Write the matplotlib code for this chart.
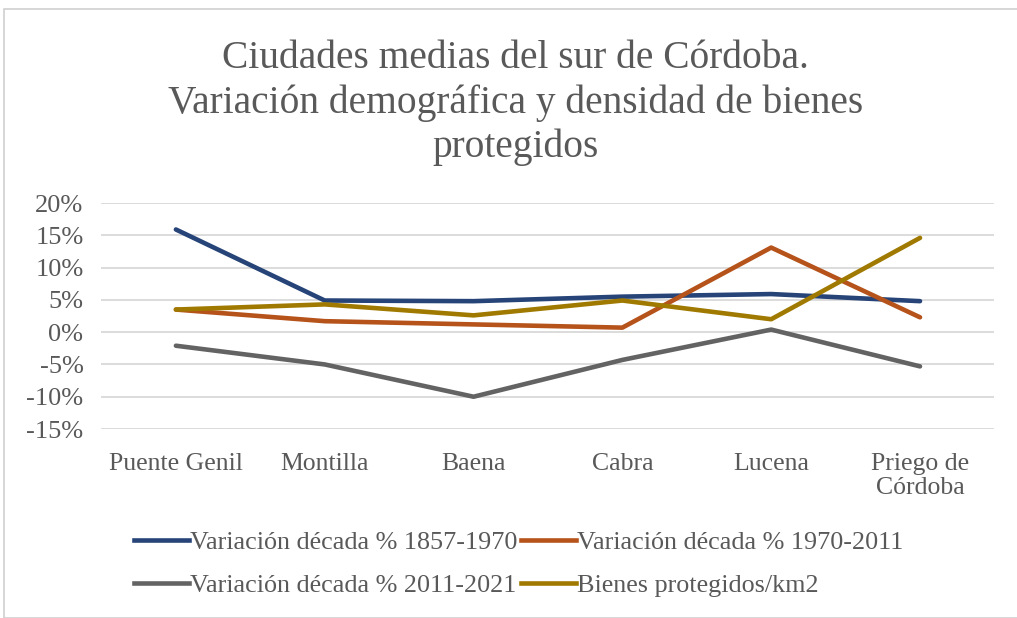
import matplotlib.pyplot as plt
import numpy as np
from matplotlib.patches import Rectangle
from matplotlib.lines import Line2D

ciudades = ["Puente Genil", "Montilla", "Baena", "Cabra", "Lucena", "Priego de\nCórdoba"]
var_1857_1970 = [15.9, 4.9, 4.8, 5.5, 5.9, 4.8]
var_1970_2011 = [3.5, 1.7, 1.2, 0.7, 13.1, 2.3]
var_2011_2021 = [-2.1, -5.0, -10.0, -4.3, 0.4, -5.3]
bienes_km2 = [3.5, 4.3, 2.6, 4.9, 2.0, 14.6]

series = [
    ("Variación década % 1857-1970", var_1857_1970, "#264478"),
    ("Variación década % 1970-2011", var_1970_2011, "#B5531A"),
    ("Variación década % 2011-2021", var_2011_2021, "#636363"),
    ("Bienes protegidos/km2", bienes_km2, "#A07A00"),
]
yticks = [-15, -10, -5, 0, 5, 10, 15, 20]

plt.rcParams['font.family'] = ['Liberation Serif', 'DejaVu Serif']
txt = "#595959"

fig = plt.figure(figsize=(10.17, 6.18), dpi=100)
fig.patches.append(Rectangle((4/1017, 0.0), 1.2, 1 - 9/618, transform=fig.transFigure,
                             fill=False, edgecolor="#D0D0D0", lw=1.2))

ax = fig.add_axes([0.0998, 0.3058, 0.878, 0.3657])
x = np.arange(len(ciudades))
for name, vals, col in series:
    ax.plot(x, vals, color=col, lw=3.3, solid_capstyle="round", label=name)

ax.set_xlim(-0.5, len(ciudades) - 0.5)
ax.set_ylim(-15, 20)
ax.set_yticks(yticks)
ax.set_yticklabels([f"{v}%" for v in yticks], fontsize=19, color=txt)
ax.set_xticks(x)
ax.set_xticklabels(ciudades, fontsize=18.5, color=txt, linespacing=1.15, va="top")
ax.tick_params(axis="y", length=0, pad=13)
ax.tick_params(axis="x", length=0, pad=17)
ax.grid(axis="y", color="#D9D9D9", lw=1.3)
ax.set_axisbelow(True)
for s in ax.spines.values():
    s.set_visible(False)

fig.text(0.507, 1 - 103/618, "Ciudades medias del sur de Córdoba.\nVariación demográfica y densidad de bienes\nprotegidos",
         ha="center", va="center", fontsize=28.4, color=txt, linespacing=1.24,
         transform=fig.transFigure)

# legend is filled column by column, so interleave to get two rows
order = [0, 2, 1, 3]
handles = [Line2D([], [], color=series[i][2], lw=3.3) for i in order]
labels = [series[i][0] for i in order]
fig.legend(handles, labels, ncol=2, loc="center", bbox_to_anchor=(0.51, 1 - 564/618),
           frameon=False, fontsize=18.8, labelcolor=txt, handlelength=2.1,
           handletextpad=0.05, columnspacing=0.15, labelspacing=0.75)

fig.savefig("out.png", dpi=100)
